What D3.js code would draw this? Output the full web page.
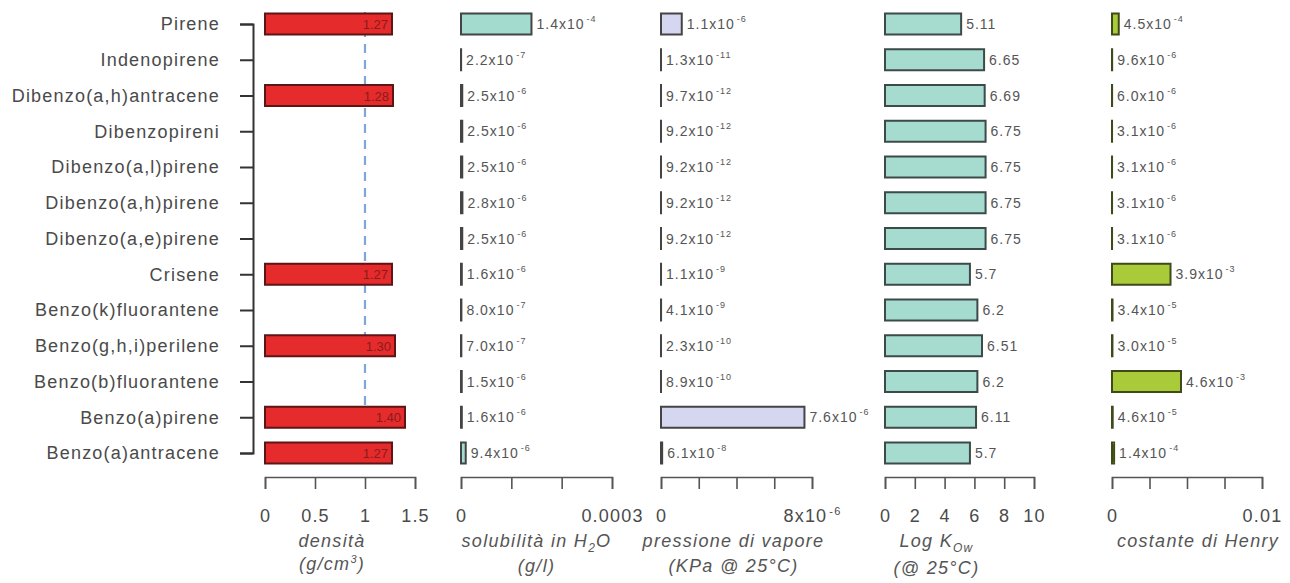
<!DOCTYPE html>
<html lang="it">
<head>
<meta charset="utf-8">
<title>IPA - proprietà chimico-fisiche</title>
<script src="https://cdnjs.cloudflare.com/ajax/libs/d3/7.8.5/d3.min.js"></script>
<style>
  body { margin: 0; background: #fff; }
  svg { display: block; font-family: "Liberation Sans", Arial, sans-serif; }
  .axis path, .axis line { stroke: #555; stroke-width: 1.6; }
  .axis text { fill: #4a4a4a; font-size: 18px; letter-spacing: 1.2px; }
  .yaxis path, .yaxis line { stroke: #333; stroke-width: 2; }
  .val { fill: #555; font-size: 14px; letter-spacing: 1px; }
  .title { fill: #555; font-size: 18px; letter-spacing: 1.3px; font-style: italic; }
</style>
</head>
<body>
<div id="chart"></div>
<script>
// composti, dall'alto verso il basso
var categories = ["Pirene", "Indenopirene", "Dibenzo(a,h)antracene", "Dibenzopireni",
  "Dibenzo(a,l)pirene", "Dibenzo(a,h)pirene", "Dibenzo(a,e)pirene", "Crisene",
  "Benzo(k)fluorantene", "Benzo(g,h,i)perilene", "Benzo(b)fluorantene",
  "Benzo(a)pirene", "Benzo(a)antracene"];

var densita    = [1.27, null, 1.28, null, null, null, null, 1.27, null, 1.30, null, 1.40, 1.27];
var solubilita = [1.4e-4, 2.2e-7, 2.5e-6, 2.5e-6, 2.5e-6, 2.8e-6, 2.5e-6, 1.6e-6, 8.0e-7, 7.0e-7, 1.5e-6, 1.6e-6, 9.4e-6];
var pressione  = [1.1e-6, 1.3e-11, 9.7e-12, 9.2e-12, 9.2e-12, 9.2e-12, 9.2e-12, 1.1e-9, 4.1e-9, 2.3e-10, 8.9e-10, 7.6e-6, 6.1e-8];
var logKow     = [5.11, 6.65, 6.69, 6.75, 6.75, 6.75, 6.75, 5.7, 6.2, 6.51, 6.2, 6.11, 5.7];
var henry      = [4.5e-4, 9.6e-6, 6.0e-6, 3.1e-6, 3.1e-6, 3.1e-6, 3.1e-6, 3.9e-3, 3.4e-5, 3.0e-5, 4.6e-3, 4.6e-5, 1.4e-4];

// tick e relative etichette ("^" = esponente)
var densTicks = [0, 0.5, 1, 1.5],                 densTickLabels = ["0", "0.5", "1", "1.5"];
var solTicks  = [0, 1e-4, 2e-4, 3e-4],            solTickLabels  = ["0", "", "", "0.0003"];
var presTicks = [0, 2e-6, 4e-6, 6e-6, 8e-6],      presTickLabels = ["0", "", "", "", "8x10^-6"];
var kowTicks  = [0, 2, 4, 6, 8, 10],              kowTickLabels  = ["0", "2", "4", "6", "8", "10"];
var henTicks  = [0, 0.0025, 0.005, 0.0075, 0.01], henTickLabels  = ["0", "", "", "", "0.01"];

var W = 1290, H = 583;
var axisY = 477, barH = 21;

var svg = d3.select("#chart").append("svg")
    .attr("width", W).attr("height", H);

var y = d3.scalePoint().domain(categories).range([24, 453]);

// asse verticale con i nomi
var yAxis = svg.append("g")
    .attr("class", "axis yaxis")
    .attr("transform", "translate(253,0)")
    .call(d3.axisLeft(y).tickSize(13).tickPadding(20));
yAxis.selectAll("text").attr("font-size", null).attr("font-family", null);

// scrive testo con eventuale esponente "a^b"
function writeSup(sel, str, supSize, supDy) {
  var parts = str.split("^");
  sel.text(null);
  sel.append("tspan").text(parts[0]);
  if (parts.length > 1) {
    sel.append("tspan").attr("dy", supDy).attr("dx", 2)
      .style("font-size", supSize + "px").text(parts[1]);
  }
}

function sci(v) {
  var e = Math.floor(Math.log10(v));
  var m = (v / Math.pow(10, e)).toFixed(1);
  return m + "x10^" + e;
}

var panels = [
  {data: densita,    range: [265, 415],  domain: [0, 1.5],  ticks: densTicks, tickLabels: densTickLabels,
   fill: "#e52b2b", stroke: "#5e1515", titleDx: -8, inside: true},
  {data: solubilita, range: [461, 612],  domain: [0, 3e-4], ticks: solTicks,  tickLabels: solTickLabels,
   fill: "#a3dccf", stroke: "#444", titleDx: 0, fmt: sci},
  {data: pressione,  range: [661, 812],  domain: [0, 8e-6], ticks: presTicks, tickLabels: presTickLabels,
   fill: "#d5d6ef", stroke: "#444", titleDx: -3, fmt: sci},
  {data: logKow,     range: [885, 1034], domain: [0, 10],   ticks: kowTicks,  tickLabels: kowTickLabels,
   fill: "#a6dbd0", stroke: "#3c4a48", titleDx: -23, fmt: function(v) { return String(v); }},
  {data: henry,      range: [1112, 1262], domain: [0, 0.01], ticks: henTicks, tickLabels: henTickLabels,
   fill: "#a9cb3a", stroke: "#3e4a1a", titleDx: 11, fmt: sci}
];

// linea tratteggiata a densità = 1 (acqua)
var xDens = d3.scaleLinear().domain(panels[0].domain).range(panels[0].range);
svg.append("line")
  .attr("x1", xDens(1)).attr("x2", xDens(1))
  .attr("y1", 12).attr("y2", 412)
  .attr("stroke", "#7ea6d6").attr("stroke-width", 2.2)
  .attr("stroke-dasharray", "9,7");

panels.forEach(function(p) {
  var x = d3.scaleLinear().domain(p.domain).range(p.range);
  var rows = categories.map(function(c, i) { return {cat: c, v: p.data[i]}; })
    .filter(function(d) { return d.v != null; });

  svg.append("g").selectAll("rect")
    .data(rows).enter().append("rect")
    .attr("x", x(0))
    .attr("y", function(d) { return y(d.cat) - barH / 2; })
    .attr("width", function(d) { return Math.max(0.01, x(d.v) - x(0)); })
    .attr("height", barH)
    .attr("fill", p.fill)
    .attr("stroke", p.stroke)
    .attr("stroke-width", 2);

  if (p.inside) {
    svg.append("g").selectAll("text")
      .data(rows).enter().append("text")
      .attr("x", function(d) { return x(d.v) - 4; })
      .attr("y", function(d) { return y(d.cat) + 5; })
      .attr("text-anchor", "end")
      .attr("fill", "#8a1c1c")
      .style("font-size", "13px")
      .text(function(d) { return d.v.toFixed(2); });
  } else {
    svg.append("g").selectAll("text")
      .data(rows).enter().append("text")
      .attr("class", "val")
      .attr("x", function(d) { return x(d.v) + 5; })
      .attr("y", function(d) { return y(d.cat) + 5; })
      .each(function(d) { writeSup(d3.select(this), p.fmt(d.v), 9, -7); });
  }

  var ax = svg.append("g")
    .attr("class", "axis")
    .attr("transform", "translate(0," + axisY + ")")
    .call(d3.axisBottom(x).tickValues(p.ticks).tickSize(12).tickPadding(20)
      .tickFormat(function(d, i) { return p.tickLabels[i]; }));
  ax.selectAll("text").attr("font-size", null).attr("font-family", null)
    .each(function(d, i) { writeSup(d3.select(this), p.tickLabels[i], 11, -7); });
  p.cx = (p.range[0] + p.range[1]) / 2 + p.titleDx;
});

// titoli degli assi
function title(cx, yy) {
  return svg.append("text").attr("class", "title")
    .attr("x", cx).attr("y", yy).attr("text-anchor", "middle");
}
var t;
title(panels[0].cx, 547).text("densità");
t = title(panels[0].cx, 570);
t.append("tspan").text("(g/cm");
t.append("tspan").attr("dy", -7).style("font-size", "11px").text("3");
t.append("tspan").attr("dy", 7).text(")");

t = title(panels[1].cx, 547);
t.append("tspan").text("solubilità in H");
t.append("tspan").attr("dy", 5).style("font-size", "12px").text("2");
t.append("tspan").attr("dy", -5).text("O");
title(panels[1].cx, 572).text("(g/l)");

title(panels[2].cx, 547).text("pressione di vapore");
title(panels[2].cx, 572).text("(KPa @ 25°C)");

t = title(panels[3].cx, 547);
t.append("tspan").text("Log K");
t.append("tspan").attr("dy", 5).style("font-size", "12px").text("Ow");
title(panels[3].cx, 574).text("(@ 25°C)");

title(panels[4].cx, 547).text("costante di Henry");
</script>
</body>
</html>
